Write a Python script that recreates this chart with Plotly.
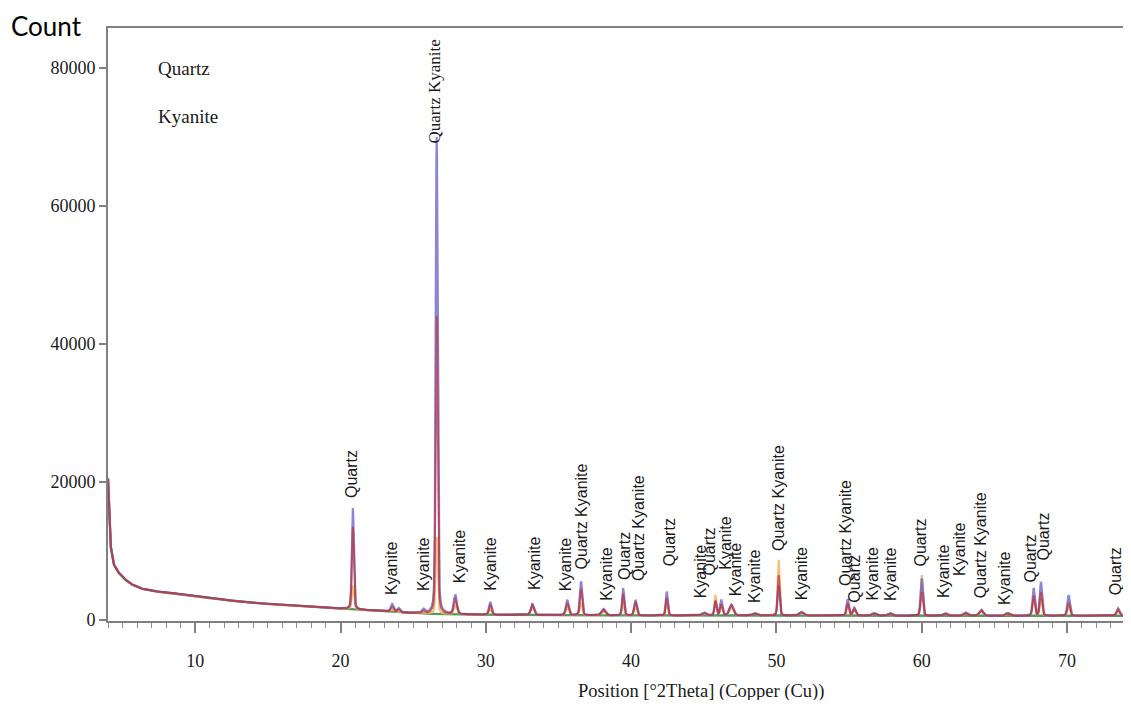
import numpy as np
import plotly.graph_objects as go

# ---- data ----
# background (position, counts)
bg_x = [4.0, 4.08, 4.2, 4.35, 4.6, 5.0, 5.5, 6.2, 7.0, 8.5, 10.0, 12.0, 14.0, 16.0, 18.0,
        20.0, 22.0, 24.0, 26.0, 30.0, 35.0, 40.0, 50.0, 60.0, 70.0, 74.4]
bg_y = [20500, 15000, 10500, 8300, 7200, 6200, 5300, 4600, 4200, 3900, 3400, 2900, 2500,
        2150, 1850, 1650, 1400, 1100, 900, 750, 700, 650, 650, 600, 600, 600]

# peaks: position, total height for blue / red / orange traces, width (FWHM, deg)
peak_pos = [20.85, 23.55, 24.0, 25.7, 26.62, 27.9, 30.3, 33.2, 35.6, 36.55, 38.1, 39.45,
            40.3, 42.45, 45.0, 45.8, 46.2, 46.9, 48.5, 50.15, 51.7, 54.9, 55.35, 56.7,
            57.8, 60.0, 61.6, 63.0, 64.1, 65.9, 67.7, 68.2, 70.1, 73.5]
peak_blue = [16200, 2300, 1700, 1500, 70000, 3600, 2600, 2300, 2900, 5600, 1600, 4600,
             2900, 4100, 1100, 2600, 2900, 2200, 1000, 5000, 1200, 3000, 1800, 1000,
             1000, 6000, 1000, 1100, 1500, 1000, 4600, 5500, 3600, 1700]
peak_red = [13500, 1900, 1500, 1300, 44000, 3000, 2200, 2200, 2400, 4500, 1500, 3800,
            2600, 3200, 1000, 2800, 2200, 2200, 950, 6500, 1100, 2400, 1600, 950,
            950, 4000, 950, 1000, 1400, 950, 3500, 4000, 2500, 1500]
peak_orange = [5000, 1500, 1300, 1100, 12000, 2000, 1500, 1800, 1800, 2500, 1200, 2500,
               1800, 2200, 900, 3600, 2000, 1800, 900, 8700, 1000, 2000, 1400, 900,
               900, 6500, 900, 950, 1200, 900, 3000, 3000, 2000, 1300]
peak_width = [0.16, 0.22, 0.22, 0.22, 0.16, 0.24, 0.2, 0.24, 0.22, 0.18, 0.32, 0.16,
              0.2, 0.16, 0.32, 0.16, 0.18, 0.32, 0.32, 0.16, 0.32, 0.18, 0.22, 0.32,
              0.32, 0.18, 0.32, 0.32, 0.32, 0.32, 0.18, 0.18, 0.2, 0.22]

# peak labels: position, label base (counts), text
label_x = [20.8, 23.5, 25.7, 26.45, 28.15, 30.3, 33.3, 35.5, 36.6, 38.3, 39.5, 40.5,
           42.6, 44.8, 45.4, 46.5, 47.2, 48.5, 50.1, 51.7, 54.7, 55.4, 56.6, 57.8,
           59.9, 61.5, 62.6, 64.1, 65.7, 67.5, 68.4, 73.3]
label_y = [17400, 3300, 3900, 68800, 5100, 3900, 4100, 3900, 7000, 2500, 5500, 5400,
           7500, 2900, 6100, 7000, 3200, 2200, 9700, 2500, 4600, 2200, 2500, 2500,
           7500, 2900, 6100, 2900, 1900, 5100, 8300, 3300]
label_text = ["Quartz", "Kyanite", "Kyanite", "Quartz Kyanite", "Kyanite", "Kyanite",
              "Kyanite", "Kyanite", "Quartz Kyanite", "Kyanite", "Quartz", "Quartz Kyanite",
              "Quartz", "Kyanite", "Quartz", "Kyanite", "Kyanite", "Kyanite",
              "Quartz Kyanite", "Kyanite", "Quartz Kyanite", "Quartz", "Kyanite", "Kyanite",
              "Quartz", "Kyanite", "Kyanite", "Quartz Kyanite", "Kyanite", "Quartz",
              "Quartz", "Quartz"]

x_ticks = [10, 20, 30, 40, 50, 60, 70]
y_ticks = [0, 20000, 40000, 60000, 80000]

# ---- build profiles ----
x = np.arange(4.0, 74.41, 0.01)
bg = np.interp(x, bg_x, bg_y)


def profile(heights):
    y = bg.copy()
    for p, h, w in zip(peak_pos, heights, peak_width):
        amp = h - np.interp(p, bg_x, bg_y)
        if amp <= 0:
            continue
        d = x - p
        g = np.exp(-4 * np.log(2) * d ** 2 / w ** 2)
        lo = 1 / (1 + 4 * d ** 2 / w ** 2)
        y += amp * (0.7 * g + 0.3 * lo)
    return y


fig = go.Figure()
fig.add_trace(go.Scatter(x=x, y=bg, mode="lines", line=dict(color="#4f9a5c", width=2.4),
                         hoverinfo="skip"))
fig.add_trace(go.Scatter(x=x, y=profile(peak_orange), mode="lines",
                         line=dict(color="#f0b45c", width=2), opacity=0.85, hoverinfo="skip"))
fig.add_trace(go.Scatter(x=x, y=profile(peak_blue), mode="lines",
                         line=dict(color="#5a52c4", width=2.2), opacity=0.7, hoverinfo="skip"))
fig.add_trace(go.Scatter(x=x, y=profile(peak_red), mode="lines",
                         line=dict(color="#c0303a", width=2), opacity=0.7, hoverinfo="skip"))

annotations = []
for lx, ly, lt in zip(label_x, label_y, label_text):
    serif = (ly > 60000)
    annotations.append(dict(
        x=lx, y=ly, xref="x", yref="y", text=lt, textangle=-90, showarrow=False,
        xanchor="center", yanchor="bottom",
        font=dict(family="Liberation Serif" if serif else "Liberation Sans",
                  size=17 if serif else 16, color="#1a1a1a")))

# page offsets: the page body adds 8 px; plot area spans page x 108..1131, y 28..621
L, T, W, H = 100, 20, 1123, 692
PW = W - L
PH = 613 - T


def px(xp):
    return (xp - 8 - L) / PW


def py(yp):
    return 1 - (yp - 8 - T) / PH


annotations += [
    dict(x=7.3, y=80000, xref="x", yref="y", text="Quartz", showarrow=False,
         xanchor="left", yanchor="middle",
         font=dict(family="Liberation Serif", size=19, color="#1a1a1a")),
    dict(x=7.3, y=73000, xref="x", yref="y", text="Kyanite", showarrow=False,
         xanchor="left", yanchor="middle",
         font=dict(family="Liberation Serif", size=19, color="#1a1a1a")),
    dict(x=px(9), y=py(8), xref="paper", yref="paper", text="Count", showarrow=False,
         xanchor="left", yanchor="top",
         font=dict(family="Lato", size=26, color="#000000")),
    dict(x=px(701), y=py(691), xref="paper", yref="paper",
         text="Position [°2Theta] (Copper (Cu))", showarrow=False,
         xanchor="center", yanchor="middle",
         font=dict(family="Liberation Serif", size=18.5, color="#1a1a1a")),
]

fig.update_layout(
    width=W, height=H,
    margin=dict(l=L, r=0, t=T, b=H - 613),
    paper_bgcolor="white", plot_bgcolor="white",
    showlegend=False,
    annotations=annotations,
    xaxis=dict(
        range=[4.0, 74.4], tickvals=x_ticks, ticktext=[str(v) for v in x_ticks],
        showgrid=False, zeroline=False, showline=True, linecolor="#808080", linewidth=2,
        mirror=True, ticks="outside", ticklen=10, tickwidth=1.5, tickcolor="#808080",
        ticklabelstandoff=12, automargin=False,
        minor=dict(dtick=1, tick0=0, ticks="outside", ticklen=5, tickcolor="#909090",
                   tickwidth=1, showgrid=False),
        tickfont=dict(family="Liberation Serif", size=18, color="#1a1a1a"),
    ),
    yaxis=dict(
        range=[-150, 85800], tickvals=y_ticks, ticktext=[str(v) for v in y_ticks],
        showgrid=False, zeroline=False, showline=True, linecolor="#808080", linewidth=2,
        ticks="outside", ticklen=7, tickwidth=1.5, tickcolor="#808080", automargin=False,
        tickfont=dict(family="Liberation Serif", size=18, color="#1a1a1a"),
    ),
)

fig.write_html("out.html")
